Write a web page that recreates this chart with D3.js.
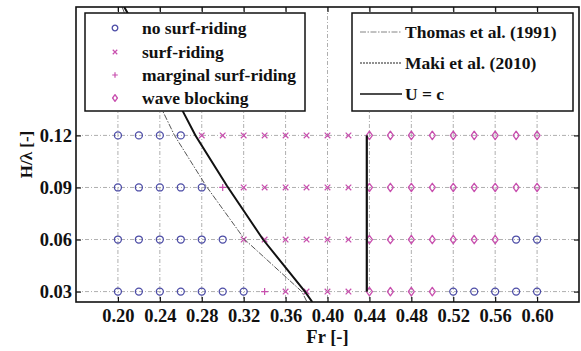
<!DOCTYPE html>
<html>
<head>
<meta charset="utf-8">
<script src="https://cdn.jsdelivr.net/npm/d3@7"></script>
<style>
  html, body { margin: 0; padding: 0; background: #fff; }
  svg { display: block; }
  svg text { font-family: "Liberation Serif", "DejaVu Serif", "Noto Serif", "Nimbus Roman", FreeSerif, Times, serif; font-weight: bold; }
</style>
</head>
<body>
<svg id="chart" width="581" height="351"></svg>
<script>
// Froude numbers tested and wave steepness rows
const frValues = [0.20, 0.22, 0.24, 0.26, 0.28, 0.30, 0.32, 0.34, 0.36, 0.38, 0.40,
                  0.42, 0.44, 0.46, 0.48, 0.50, 0.52, 0.54, 0.56, 0.58, 0.60];
const steepness = [0.03, 0.06, 0.09, 0.12];

// Observed regime per Fr (N = no surf-riding, S = surf-riding, M = marginal, B = wave blocking)
const regime003 = ["N","N","N","N","N","N","N","M","S","S","S","S","B","B","B","B","N","N","N","N","N"];
const regime006 = ["N","N","N","N","N","N","S","S","S","S","S","S","B","B","B","B","B","B","B","N","N"];
const regime009 = ["N","N","N","N","N","M","S","S","S","S","S","S","B","B","B","B","B","B","B","B","B"];
const regime012 = ["N","N","N","N","S","S","S","S","S","S","S","S","B","B","B","B","B","B","B","B","B"];

// Surf-riding threshold curves and the U = c boundary
const thomasFr = [0.204, 0.242, 0.254, 0.284, 0.321, 0.3755, 0.3805];
const thomasH  = [0.194, 0.135, 0.120, 0.091, 0.060, 0.030, 0.024];
const makiFr   = [0.206, 0.261, 0.274, 0.304, 0.3385, 0.3785, 0.3855];
const makiH    = [0.194, 0.135, 0.120, 0.091, 0.060, 0.030, 0.024];
const ucFr     = [0.4375, 0.4375];
const ucH      = [0.030, 0.120];

const xTicks = [0.20, 0.24, 0.28, 0.32, 0.36, 0.40, 0.44, 0.48, 0.52, 0.56, 0.60];
const yTicks = [0.03, 0.06, 0.09, 0.12];

const regimeLabels = ["no surf-riding", "surf-riding", "marginal surf-riding", "wave blocking"];
const regimeCodes  = ["N", "S", "M", "B"];
const curveLabels  = ["Thomas et al. (1991)", "Maki et al. (2010)", "U = c"];

const plot = { left: 76, right: 579, top: 7, bottom: 302 };
const svg = d3.select("#chart");

const x = d3.scaleLinear().domain([0.16, 0.64]).range([plot.left, plot.right]);
const y = d3.scaleLinear().domain([0.024, 0.194]).range([plot.bottom, plot.top]);

const blue = "#4c4ca6";
const pink = "#c84fae";

// grid
const grid = svg.append("g").attr("stroke", "#9a9a9a").attr("stroke-width", 0.8)
  .attr("stroke-dasharray", "4,2,1,2").attr("fill", "none");
grid.selectAll("line.v").data(xTicks).join("line").attr("class", "v")
  .attr("x1", d => x(d)).attr("x2", d => x(d)).attr("y1", plot.top).attr("y2", plot.bottom);
grid.selectAll("line.h").data(yTicks).join("line").attr("class", "h")
  .attr("y1", d => y(d)).attr("y2", d => y(d)).attr("x1", plot.left).attr("x2", plot.right);

// markers
function drawMarker(g, code, size) {
  const s = size || 1;
  if (code === "N") {
    g.append("circle").attr("r", 3.5 * s).attr("fill", "none").attr("stroke", blue).attr("stroke-width", 1.3);
  } else if (code === "S") {
    const a = 2.8 * s;
    g.append("path").attr("d", `M${-a},${-a}L${a},${a}M${-a},${a}L${a},${-a}`)
      .attr("stroke", pink).attr("stroke-width", 1.2).attr("fill", "none");
  } else if (code === "M") {
    const a = 3.5 * s;
    g.append("path").attr("d", `M${-a},0L${a},0M0,${-a}L0,${a}`)
      .attr("stroke", pink).attr("stroke-width", 1.2).attr("fill", "none");
  } else {
    const w = 3 * s, h = 4.2 * s;
    g.append("path").attr("d", `M0,${-h}L${w},0L0,${h}L${-w},0Z`)
      .attr("stroke", pink).attr("stroke-width", 1.3).attr("stroke-linejoin", "round").attr("fill", "none");
  }
}

const rows = [regime003, regime006, regime009, regime012];
const pts = [];
rows.forEach((row, i) => row.forEach((code, j) => pts.push({ fr: frValues[j], h: steepness[i], code })));
svg.append("g").selectAll("g").data(pts).join("g")
  .attr("transform", d => `translate(${x(d.fr)},${y(d.h)})`)
  .each(function (d) { drawMarker(d3.select(this), d.code); });

// curves
const line = d3.line().x(d => x(d[0])).y(d => y(d[1]));
svg.append("clipPath").attr("id", "plotclip").append("rect")
  .attr("x", plot.left).attr("y", plot.top).attr("width", plot.right - plot.left).attr("height", plot.bottom - plot.top);
const curves = svg.append("g").attr("clip-path", "url(#plotclip)").attr("fill", "none");
curves.append("path").datum(d3.zip(thomasFr, thomasH)).attr("d", line)
  .attr("stroke", "#555").attr("stroke-width", 1).attr("stroke-dasharray", "6,1.5,1.5,1.5");
curves.append("path").datum(d3.zip(makiFr, makiH)).attr("d", line)
  .attr("stroke", "#111").attr("stroke-width", 2);
curves.append("path").datum(d3.zip(ucFr, ucH)).attr("d", line)
  .attr("stroke", "#111").attr("stroke-width", 2.2);

// axes with inward ticks on all four sides
const fmt = d3.format(".2f");
const axB = svg.append("g").attr("transform", `translate(0,${plot.bottom})`)
  .call(d3.axisBottom(x).tickValues(xTicks).tickFormat(fmt).tickSizeInner(-5).tickSizeOuter(0).tickPadding(7));
const axT = svg.append("g").attr("transform", `translate(0,${plot.top})`)
  .call(d3.axisTop(x).tickValues(xTicks).tickFormat("").tickSizeInner(-5).tickSizeOuter(0));
const axL = svg.append("g").attr("transform", `translate(${plot.left},0)`)
  .call(d3.axisLeft(y).tickValues(yTicks).tickFormat(fmt).tickSizeInner(-5).tickSizeOuter(0).tickPadding(4));
const axR = svg.append("g").attr("transform", `translate(${plot.right},0)`)
  .call(d3.axisRight(y).tickValues(yTicks).tickFormat("").tickSizeInner(-5).tickSizeOuter(0));
[axB, axT, axL, axR].forEach(a => {
  a.attr("font-family", null);
  a.select(".domain").remove();
  a.selectAll(".tick line").attr("stroke", "#111").attr("stroke-width", 1.2);
  a.selectAll("text").attr("font-size", 18.5);
});
svg.append("rect").attr("x", plot.left).attr("y", plot.top)
  .attr("width", plot.right - plot.left).attr("height", plot.bottom - plot.top)
  .attr("fill", "none").attr("stroke", "#111").attr("stroke-width", 1.6);

// axis titles
svg.append("text").attr("x", (plot.left + plot.right) / 2).attr("y", 343)
  .attr("text-anchor", "middle").attr("font-size", 18.5).text("Fr [-]");
svg.append("text").attr("transform", `translate(32,${(plot.top + plot.bottom) / 2}) rotate(-90)`)
  .attr("text-anchor", "middle").attr("font-size", 17).text("H/λ [-]");

// regime legend
const leg1 = svg.append("g");
leg1.append("rect").attr("x", 85).attr("y", 13).attr("width", 220).attr("height", 98)
  .attr("fill", "#fff").attr("stroke", "#111").attr("stroke-width", 1.5);
const rowY1 = [28, 52, 75, 98];
regimeLabels.forEach((lab, i) => {
  const g = leg1.append("g").attr("transform", `translate(115,${rowY1[i]})`);
  drawMarker(g, regimeCodes[i], 0.8);
  leg1.append("text").attr("x", 142).attr("y", rowY1[i]).attr("dy", "0.33em")
    .attr("font-size", 17.5).text(lab);
});

// curve legend
const leg2 = svg.append("g");
leg2.append("rect").attr("x", 352).attr("y", 13).attr("width", 221).attr("height", 98)
  .attr("fill", "#fff").attr("stroke", "#111").attr("stroke-width", 1.5);
const rowY2 = [32, 63, 94];
const sampleStyles = [
  { stroke: "#777", width: 0.9, dash: "6,1.5,1.5,1.5" },
  { stroke: "#222", width: 1.2, dash: "2,1" },
  { stroke: "#111", width: 1.6, dash: null }
];
curveLabels.forEach((lab, i) => {
  leg2.append("line").attr("x1", 360).attr("x2", 402).attr("y1", rowY2[i]).attr("y2", rowY2[i])
    .attr("stroke", sampleStyles[i].stroke).attr("stroke-width", sampleStyles[i].width)
    .attr("stroke-dasharray", sampleStyles[i].dash);
  leg2.append("text").attr("x", 405).attr("y", rowY2[i]).attr("dy", "0.33em")
    .attr("font-size", 17.5).text(lab);
});

// shared text colour
svg.selectAll("text").attr("fill", "#111");
</script>
</body>
</html>
